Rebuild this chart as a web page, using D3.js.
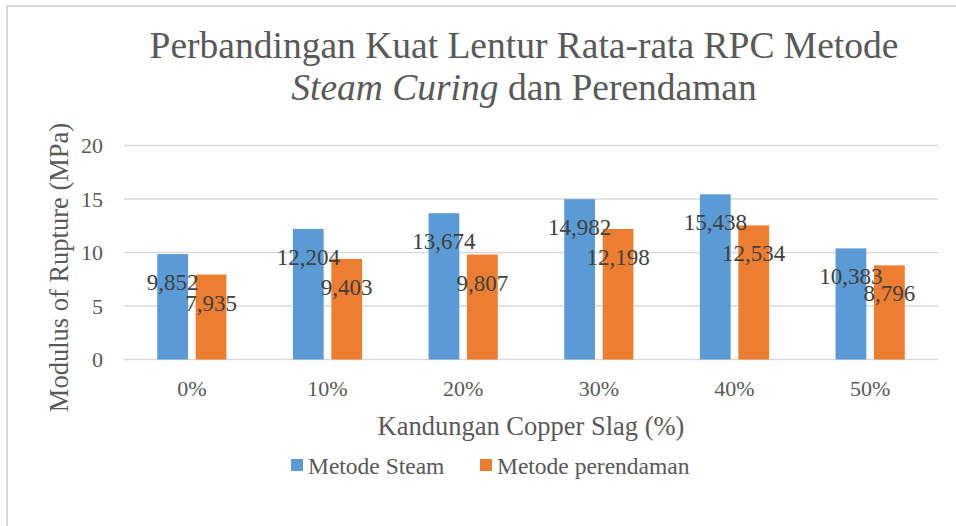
<!DOCTYPE html>
<html>
<head>
<meta charset="utf-8">
<script src="https://cdn.jsdelivr.net/npm/d3@7"></script>
<style>
  html, body { margin: 0; padding: 0; background: #fff; }
  svg { display: block; }
  svg text { font-family: 'Liberation Serif', 'Times New Roman', Times, 'DejaVu Serif', serif; }
</style>
</head>
<body>
<script>
/* Bar chart: flexural strength, steam curing vs immersion, by copper slag content. */

const categories = ['0%', '10%', '20%', '30%', '40%', '50%'];
const seriesNames = ['Metode Steam', 'Metode perendaman'];
const steamValues = [9.852, 12.204, 13.674, 14.982, 15.438, 10.383];
const soakValues = [7.935, 9.403, 9.807, 12.198, 12.534, 8.796];
const yTicks = [0, 5, 10, 15, 20];
const colors = ['#5B9BD5', '#ED7D31'];

const W = 956, H = 526;
const plot = { left: 124, right: 938, top: 145.5, bottom: 359.5 };
const FONT = "'Liberation Serif', 'Times New Roman', Times, serif";

const svg = d3.select('body').append('svg')
  .attr('width', W).attr('height', H)
  .attr('font-family', FONT);

// chart frame (only top/left edges fall inside the picture)
svg.append('rect')
  .attr('x', 7).attr('y', 6).attr('width', W + 20).attr('height', H + 20)
  .attr('fill', '#fff').attr('stroke', '#d9d9d9').attr('stroke-width', 2);

const x = d3.scaleBand().domain(categories).range([plot.left, plot.right]);
const inner = d3.scaleBand().domain(seriesNames)
  .range([-x.bandwidth() * 0.255, x.bandwidth() * 0.255])
  .paddingInner(0.2);
const y = d3.scaleLinear().domain([0, 20]).range([plot.bottom, plot.top]);

// gridlines
svg.append('g')
  .selectAll('line').data(yTicks).join('line')
  .attr('x1', plot.left).attr('x2', plot.right)
  .attr('y1', d => y(d)).attr('y2', d => y(d))
  .attr('stroke', '#d9d9d9').attr('stroke-width', 1.5);

// y tick labels
svg.append('g')
  .selectAll('text').data(yTicks).join('text')
  .attr('x', 103).attr('y', d => y(d) + 7.5)
  .attr('text-anchor', 'end')
  .attr('font-size', 22).attr('fill', '#595959')
  .text(d => d);

const rows = categories.map((c, i) => ({ cat: c, vals: [steamValues[i], soakValues[i]] }));

const groups = svg.append('g').selectAll('g').data(rows).join('g')
  .attr('transform', d => `translate(${x(d.cat) + x.bandwidth() / 2},0)`);

groups.selectAll('rect')
  .data(d => d.vals.map((v, k) => ({ v, k })))
  .join('rect')
  .attr('x', d => inner(seriesNames[d.k]))
  .attr('width', inner.bandwidth())
  .attr('y', d => y(d.v))
  .attr('height', d => y(0) - y(d.v))
  .attr('fill', d => colors[d.k]);

// data labels (inside end, comma decimal)
const fmt = v => d3.format('.3f')(v).replace('.', ',');
groups.selectAll('text')
  .data(d => d.vals.map((v, k) => ({ v, k })))
  .join('text')
  .attr('x', d => inner(seriesNames[d.k]) + inner.bandwidth() / 2)
  .attr('y', d => y(d.v) + 36)
  .attr('text-anchor', 'middle')
  .attr('font-size', 23).attr('fill', '#404040')
  .text(d => fmt(d.v));

// x tick labels
svg.append('g')
  .selectAll('text').data(categories).join('text')
  .attr('x', d => x(d) + x.bandwidth() / 2).attr('y', 396)
  .attr('text-anchor', 'middle')
  .attr('font-size', 22).attr('fill', '#595959')
  .text(d => d);

// axis titles
svg.append('text')
  .attr('x', (plot.left + plot.right) / 2).attr('y', 435)
  .attr('text-anchor', 'middle')
  .attr('font-size', 26.5).attr('fill', '#595959')
  .text('Kandungan Copper Slag (%)');

svg.append('text')
  .attr('transform', `translate(68,${(123 + 412) / 2}) rotate(-90)`)
  .attr('text-anchor', 'middle')
  .attr('font-size', 26.5).attr('fill', '#595959')
  .text('Modulus of Rupture (MPa)');

// title
const title = svg.append('text')
  .attr('text-anchor', 'middle')
  .attr('font-size', 37.5).attr('fill', '#595959');
title.append('tspan').attr('x', 524).attr('y', 58)
  .text('Perbandingan Kuat Lentur Rata-rata RPC Metode');
const t2 = title.append('tspan').attr('x', 524).attr('y', 100);
t2.append('tspan').attr('font-style', 'italic').text('Steam Curing');
t2.append('tspan').text(' dan Perendaman');

// legend
const legend = svg.append('g');
const legendX = [291, 480];
seriesNames.forEach((name, k) => {
  legend.append('rect')
    .attr('x', legendX[k]).attr('y', 459).attr('width', 12).attr('height', 12)
    .attr('fill', colors[k]);
  legend.append('text')
    .attr('x', legendX[k] + 17).attr('y', 474)
    .attr('font-size', 23.5).attr('fill', '#595959')
    .text(name);
});
</script>
</body>
</html>
